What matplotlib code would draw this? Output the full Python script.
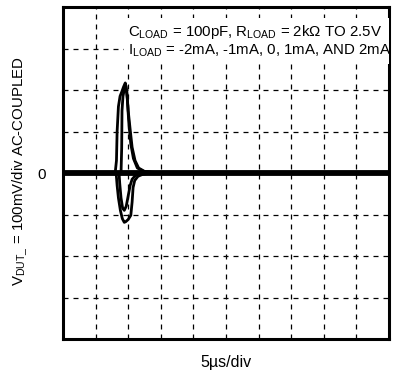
import matplotlib
matplotlib.use("Agg")
import matplotlib.pyplot as plt
from matplotlib import font_manager as fm

names = {f.name for f in fm.fontManager.ttflist}
FONT = "Liberation Sans Narrow" if "Liberation Sans Narrow" in names else "Liberation Sans"
plt.rcParams['font.family'] = [FONT, 'DejaVu Sans']
plt.rcParams['mathtext.fontset'] = 'custom'
plt.rcParams['mathtext.rm'] = FONT
plt.rcParams['mathtext.it'] = FONT

# time in divisions (5us/div), voltage in divisions (100mV/div)
t_pos2 = [0, 1.60, 1.64, 1.66, 1.70, 1.75, 1.80, 1.86, 1.91, 1.96, 2.00, 2.06, 2.12, 2.21, 2.32, 2.52, 3.0, 10]
v_pos2 = [0, 0.00, 0.30, 1.00, 1.60, 1.85, 1.95, 2.08, 2.17, 1.95, 1.50, 1.05, 0.62, 0.30, 0.12, 0.03, 0.0, 0]

t_pos1 = [0, 1.78, 1.80, 1.81, 1.84, 1.89, 1.93, 1.97, 2.02, 2.08, 2.16, 2.28, 2.50, 3.0, 10]
v_pos1 = [0, 0.00, 0.60, 1.50, 1.85, 2.05, 2.10, 1.80, 1.20, 0.70, 0.35, 0.12, 0.03, 0.0, 0]

t_neg1 = [0, 1.72, 1.74, 1.78, 1.83, 1.88, 1.94, 2.00, 2.06, 2.12, 2.22, 2.40, 3.0, 10]
v_neg1 = [0, 0.00, -0.25, -0.60, -0.85, -0.90, -0.80, -0.55, -0.30, -0.15, -0.06, -0.02, 0.0, 0]

t_neg2 = [0, 1.63, 1.66, 1.70, 1.76, 1.82, 1.88, 1.93, 2.00, 2.08, 2.12, 2.15, 2.20, 2.30, 2.45, 2.70, 10]
v_neg2 = [0, 0.00, -0.30, -0.60, -0.90, -1.10, -1.19, -1.17, -1.12, -1.02, -0.70, -0.35, -0.18, -0.08, -0.03, 0.0, 0]

t_zero = [0, 10]
v_zero = [0, 0]

fig = plt.figure(figsize=(3.94, 3.71), dpi=100)
ax = fig.add_axes([63/394, 1 - 339/371, 326/394, 332/371])
ax.set_xlim(0, 10)
ax.set_ylim(-4, 4)

for x in range(1, 10):
    ax.axvline(x, color='black', lw=0.9, ls=(0, (4, 4)), zorder=1)
for y in range(-3, 4):
    if y != 0:
        ax.axhline(y, color='black', lw=0.9, ls=(0, (4, 4)), zorder=1)

ax.plot(t_zero, v_zero, color='black', lw=4.2, zorder=3, solid_capstyle='butt')
for t, v in [(t_pos2, v_pos2), (t_pos1, v_pos1), (t_neg1, v_neg1), (t_neg2, v_neg2)]:
    ax.plot(t, v, color='black', lw=2.0, zorder=4)

for s in ax.spines.values():
    s.set_linewidth(2.2)
ax.set_xticks([])
ax.set_yticks([0])
ax.set_yticklabels(['0'], fontsize=11)
ax.tick_params(axis='y', length=0, pad=12)

txt = ("C$_{\\mathrm{LOAD}}$ = 100pF, R$_{\\mathrm{LOAD}}$ = 2k\u03A9 TO 2.5V\n"
       "I$_{\\mathrm{LOAD}}$ = -2mA, -1mA, 0, 1mA, AND 2mA")
ax.text(128/394, 1 - 41/371, txt, transform=fig.transFigure, fontsize=10.8,
        ha='left', va='center', linespacing=1.2, zorder=6, clip_on=True,
        bbox=dict(facecolor='white', edgecolor='none', pad=3))

fig.text(20/394, 1 - 171/371, "V$_{\\mathrm{DUT\\_}}$ = 100mV/div AC-COUPLED",
         rotation=90, ha='center', va='center', fontsize=10.8)
fig.text(226/394, 1 - 362/371, "5\u00B5s/div", ha='center', va='center', fontsize=11.5)

fig.savefig("out.png", dpi=100)
